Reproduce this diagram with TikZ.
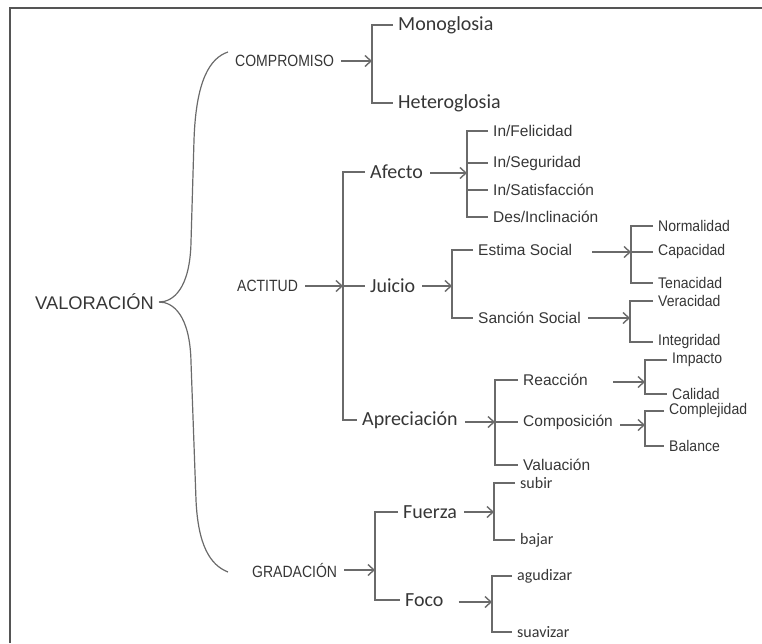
\documentclass[tikz,border=0pt]{standalone}
\usepackage{fontspec}
\newfontfamily\arialf{Liberation Sans}
\newfontfamily\arialn[FakeStretch=0.86]{Liberation Sans}
\newfontfamily\arialm[FakeStretch=0.91]{Liberation Sans}
\newfontfamily\calibf{Carlito}
\usepackage{tikz}
\usetikzlibrary{arrows.meta, calc}
\definecolor{valink}{HTML}{6A6A6A}
\definecolor{valtext}{HTML}{363636}
\definecolor{valframe}{HTML}{555555}

\begin{document}
\begin{tikzpicture}[
  x=1pt, y=-1pt,
  every node/.style={text=valtext, inner xsep=5pt, inner ysep=1pt},
  title/.style={anchor=west, font=\arialf\fontsize{18.3}{20}\selectfont},
  cat/.style={anchor=west, font=\arialn\fontsize{16.3}{18}\selectfont},
  main/.style={anchor=west, font=\calibf\fontsize{20}{22}\selectfont},
  sub/.style={anchor=west, font=\arialf\fontsize{15.5}{17}\selectfont},
  leaf/.style={anchor=west, font=\arialm\fontsize{15.4}{17}\selectfont},
  leafc/.style={anchor=west, font=\calibf\fontsize{16}{18}\selectfont},
  link/.style={draw=valink, line width=1.4pt},
  flow/.style={link, -{Straight Barb[length=6pt,width=11pt]}, shorten <=2pt},
  brace/.style={draw=valink, line width=1.2pt}
]
\useasboundingbox (0,0) rectangle (762,643);

% Frame (cut on the right and at the bottom)
\draw[draw=valframe, line width=2.2pt] (10,643) -- (10,8) -- (762,8);

% Root and its three systems
\node[title] (valor) at (30,302) {VALORACIÓN};
\node[cat] (comp) at (230,61) {COMPROMISO};
\node[cat] (acti) at (232,286) {ACTITUD};
\node[cat] (grad) at (247,570) {GRADACIÓN};

\coordinate (bTop) at (228,52);
\coordinate (bBot) at (228,572);
\draw[brace] (valor.east) .. controls +(14,0) and (190,289) .. (191,242) -- (194,140) .. controls (196,80) and (210,58) .. (bTop);
\draw[brace] (valor.east) .. controls +(14,0) and (190,315) .. (191,362) -- (196,500) .. controls (198,545) and (210,565) .. (bBot);

% Compromiso
\coordinate (cB) at (372,61);
\node[main] (mono) at (393,25) {Monoglosia};
\node[main] (hetero) at (393,103) {Heteroglosia};
\draw[flow] (comp.east) -- (cB);
\draw[link] (mono.west) -| (cB) |- (hetero.west);

% Actitud
\coordinate (cA) at (343,286);
\node[main] (afecto) at (365,172) {Afecto};
\node[main] (juicio) at (365,286) {Juicio};
\node[main] (apre) at (357,420) {Apreciación};
\draw[flow] (acti.east) -- (cA);
\draw[link] (afecto.west) -| (cA) |- (apre.west);
\draw[link] (cA) -- (juicio.west);

% Afecto
\coordinate (cAf) at (467,173);
\node[sub] (feli) at (488,131) {In/Felicidad};
\node[sub] (segu) at (488,163) {In/Seguridad};
\node[sub] (sati) at (488,190) {In/Satisfacción};
\node[sub] (incl) at (488,217) {Des/Inclinación};
\draw[flow] (afecto.east |- cAf) -- (cAf);
\draw[link] (feli.west) -| (cAf) |- (incl.west);
\draw[link] (cAf |- segu) -- (segu.west);
\draw[link] (cAf |- sati) -- (sati.west);

% Juicio
\coordinate (cJ) at (452,286);
\node[sub] (estima) at (473,250) {Estima Social};
\node[sub] (sancion) at (473,318) {Sanción Social};
\draw[flow] (juicio.east) -- (cJ);
\draw[link] (estima.west) -| (cJ) |- (sancion.west);

\coordinate (cE) at (631,252);
\node[leaf] (norm) at (653,226) {Normalidad};
\node[leaf] (capa) at (653,252) {Capacidad};
\node[leaf] (tena) at (653,283) {Tenacidad};
\draw[flow, shorten <=15pt] (estima.east |- cE) -- (cE);
\draw[link] (norm.west) -| (cE) |- (tena.west);
\draw[link] (cE) -- (capa.west);

\coordinate (cS) at (630,318);
\node[leaf] (vera) at (653,301) {Veracidad};
\node[leaf] (integ) at (653,342) {Integridad};
\draw[flow] (sancion.east) -- (cS);
\draw[link] (vera.west) -| (cS) |- (integ.west);

% Apreciacion
\coordinate (cAp) at (495,422);
\node[sub] (reac) at (518,380) {Reacción};
\node[sub] (compo) at (518,422) {Composición};
\node[sub] (valu) at (518,465) {Valuación};
\draw[flow] (apre.east |- cAp) -- (cAp);
\draw[link] (reac.west) -| (cAp) |- (valu.west);
\draw[link] (cAp) -- (compo.west);

\coordinate (cR) at (645,382);
\node[leaf] (impa) at (667,360) {Impacto};
\node[leaf] (cali) at (667,394) {Calidad};
\draw[flow, shorten <=20pt] (reac.east |- cR) -- (cR);
\draw[link] (impa.west) -| (cR) |- (cali.west);

\coordinate (cC) at (645,425);
\node[leaf] (comple) at (664,411) {Complejidad};
\node[leaf] (bal) at (664,446) {Balance};
\draw[flow] (compo.east |- cC) -- (cC);
\draw[link] (comple.west) -| (cC) |- (bal.west);

% Gradacion
\coordinate (cG) at (375,570);
\node[main] (fuer) at (398,512) {Fuerza};
\node[main] (foco) at (400,600) {Foco};
\draw[flow] (grad.east) -- (cG);
\draw[link] (fuer.west) -| (cG) |- (foco.west);

\coordinate (cF) at (494,512);
\node[leafc] (subir) at (515,483) {subir};
\node[leafc] (bajar) at (515,540) {bajar};
\draw[flow] (fuer.east) -- (cF);
\draw[link] (subir.west) -| (cF) |- (bajar.west);

\coordinate (cFo) at (492,602);
\node[leafc] (agud) at (512,576) {agudizar};
\node[leafc] (suav) at (512,632) {suavizar};
\draw[flow, shorten <=10pt] (foco.east |- cFo) -- (cFo);
\draw[link] (agud.west) -| (cFo) |- (suav.west);

\end{tikzpicture}
\end{document}
